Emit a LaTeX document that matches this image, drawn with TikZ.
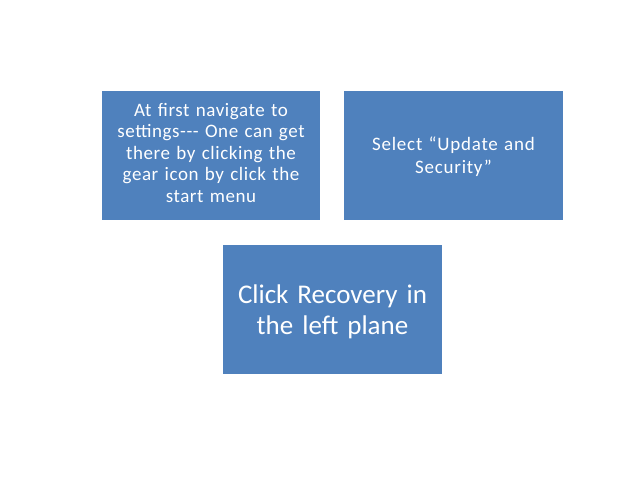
\documentclass[tikz,border=0pt]{standalone}
\usepackage{fontspec}
\setmainfont{Carlito}
\definecolor{boxblue}{HTML}{4F81BD}
\begin{document}
\begin{tikzpicture}[x=1pt,y=-1pt,
  box/.style={fill=boxblue, draw=none, text=white, align=center, inner sep=0pt, anchor=center, text width=215pt},
  smalla/.style={font=\fontsize{19}{21.5}\selectfont\addfontfeatures{LetterSpace=3}},
  smallb/.style={font=\fontsize{19}{23}\selectfont\addfontfeatures{LetterSpace=4}},
  big/.style={font=\fontsize{27}{31.5}\selectfont}]
\useasboundingbox (0,0) rectangle (638,479);
\fill[boxblue] (102,91) rectangle (320,220);
\fill[boxblue] (344,91) rectangle (563,220);
\fill[boxblue] (223,245) rectangle (442,374);
\node[box, smalla] (a) at (211,153) {At first navigate to\\settings-{}-{}- One can get\\there by clicking the\\gear icon by click the\\start menu};
\node[box, smallb] (b) at (453.5,157) {Select “Update and\\Security”};
\node[box, big] (c) at (332.5,312) {Click Recovery in\\the left plane};
\end{tikzpicture}
\end{document}
